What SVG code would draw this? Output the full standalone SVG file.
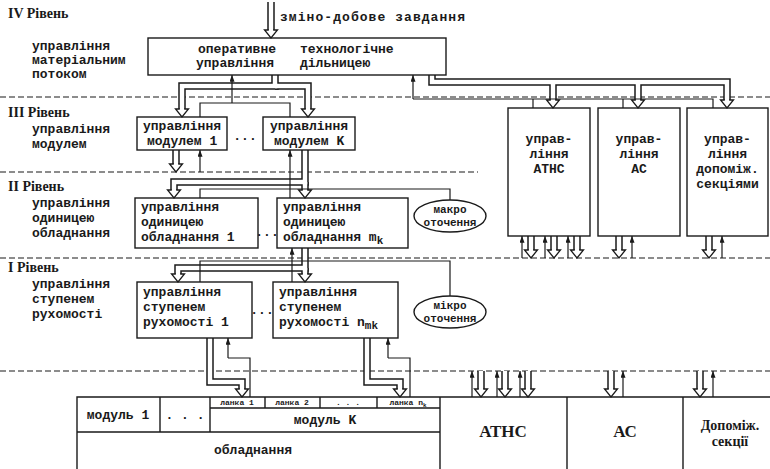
<svg xmlns="http://www.w3.org/2000/svg" width="770" height="469" viewBox="0 0 770 469">
<style>
text{font-family:"Liberation Mono","DejaVu Sans Mono",monospace;font-size:13px;font-weight:bold;fill:#1a1a1a}
.h{font-family:"Liberation Serif","DejaVu Serif",serif;font-size:14px}
.big{font-family:"Liberation Serif","DejaVu Serif",serif;font-size:17px}
.mid{font-family:"Liberation Serif","DejaVu Serif",serif;font-size:14px}
.sm{font-size:11px}
.xs{font-size:8px}
.c{text-anchor:middle}
.box{fill:none;stroke:#1a1a1a;stroke-width:1.4}
.ell{fill:#fff;stroke:#1a1a1a;stroke-width:1.4}
.dash{fill:none;stroke:#1a1a1a;stroke-width:1.2;stroke-dasharray:6 3}
.th{fill:none;stroke:#1a1a1a;stroke-width:1.2}
.po{fill:none;stroke:#1a1a1a;stroke-width:7.5}
.pi{fill:none;stroke:#fff;stroke-width:4.5}
.ah{fill:#fff;stroke:#1a1a1a;stroke-width:1.3}
</style>
<defs>
<marker id="a" viewBox="0 0 8 6" refX="8" refY="3" markerWidth="7" markerHeight="5" markerUnits="userSpaceOnUse" orient="auto">
<path d="M0,0 L8,3 L0,6 z" fill="#1a1a1a"/>
</marker>
<path id="ah" d="M-2.2,-8 H-6.5 L0,0 L6.5,-8 H2.2"/>
</defs>
<rect width="770" height="469" fill="#fff"/>

<g id="levels">
<line class="dash" x1="0" y1="97" x2="770" y2="97"/>
<line class="dash" x1="0" y1="172" x2="478" y2="172"/>
<line class="dash" x1="0" y1="258" x2="770" y2="258"/>
<line class="dash" x1="0" y1="371" x2="770" y2="371"/>
<text class="h" x="8" y="18">IV Рівень</text>
<text x="32" y="50">управління</text>
<text x="32" y="64">матеріальним</text>
<text x="32" y="78">потоком</text>
<text class="h" x="8" y="117">III Рівень</text>
<text x="32" y="133">управління</text>
<text x="32" y="148">модулем</text>
<text class="h" x="8" y="191">II Рівень</text>
<text x="32" y="207">управління</text>
<text x="32" y="222">одиницею</text>
<text x="32" y="237">обладнання</text>
<text class="h" x="8" y="272">I Рівень</text>
<text x="32" y="288">управління</text>
<text x="32" y="303">ступенем</text>
<text x="32" y="318">рухомості</text>
</g>

<g id="connectors">
<g class="po">
<path d="M271,2 V30.5"/>
<path d="M275,75 V86 H182 V109.5"/><path d="M275,86 H308 V109.5"/>
<path d="M432,75 V82 H727 V100.5"/><path d="M553,82 V100.5"/><path d="M638,82 V100.5"/>
<path d="M176,150 V164.5"/>
<path d="M305,150 V182 H174 V190.5"/><path d="M305,182 V190.5"/>
<path d="M305,248 V268 H178 V274.5"/><path d="M305,268 V274.5"/>
<path d="M210,338 V382 H242 V389.5"/>
<path d="M367,338 V382 H400 V389.5"/>
<path d="M531,236 V250.5"/><path d="M554,236 V250.5"/><path d="M577,236 V250.5"/><path d="M619,236 V250.5"/><path d="M709,236 V250.5"/>
<path d="M481,371 V389.5"/><path d="M505,371 V389.5"/><path d="M528,371 V389.5"/><path d="M611,371 V389.5"/><path d="M700,371 V389.5"/>
</g>
<g class="pi">
<path d="M271,2 V30.5"/>
<path d="M275,75 V86 H182 V109.5"/><path d="M275,86 H308 V109.5"/>
<path d="M432,75 V82 H727 V100.5"/><path d="M553,82 V100.5"/><path d="M638,82 V100.5"/>
<path d="M176,150 V164.5"/>
<path d="M305,150 V182 H174 V190.5"/><path d="M305,182 V190.5"/>
<path d="M305,248 V268 H178 V274.5"/><path d="M305,268 V274.5"/>
<path d="M210,338 V382 H242 V389.5"/>
<path d="M367,338 V382 H400 V389.5"/>
<path d="M531,236 V250.5"/><path d="M554,236 V250.5"/><path d="M577,236 V250.5"/><path d="M619,236 V250.5"/><path d="M709,236 V250.5"/>
<path d="M481,371 V389.5"/><path d="M505,371 V389.5"/><path d="M528,371 V389.5"/><path d="M611,371 V389.5"/><path d="M700,371 V389.5"/>
</g>
<g class="ah">
<use href="#ah" x="271" y="38"/>
<use href="#ah" x="182" y="117"/><use href="#ah" x="308" y="117"/>
<use href="#ah" x="553" y="108"/><use href="#ah" x="638" y="108"/><use href="#ah" x="727" y="108"/>
<use href="#ah" x="176" y="172"/>
<use href="#ah" x="174" y="198"/><use href="#ah" x="305" y="198"/>
<use href="#ah" x="178" y="282"/><use href="#ah" x="305" y="282"/>
<use href="#ah" x="242" y="397"/><use href="#ah" x="400" y="397"/>
<use href="#ah" x="531" y="258"/><use href="#ah" x="554" y="258"/><use href="#ah" x="577" y="258"/><use href="#ah" x="619" y="258"/><use href="#ah" x="709" y="258"/>
<use href="#ah" x="481" y="397"/><use href="#ah" x="505" y="397"/><use href="#ah" x="528" y="397"/><use href="#ah" x="611" y="397"/><use href="#ah" x="700" y="397"/>
</g>
<g class="th">
<path d="M232,103 V75" marker-end="url(#a)"/>
<path d="M200,117 V103 H290 V117"/>
<path d="M413,99 V75" marker-end="url(#a)"/>
<path d="M413,99 H713 V108"/><path d="M533,99 V108"/><path d="M623,99 V108"/>
<path d="M200,172 V150" marker-end="url(#a)"/>
<path d="M290,198 V150" marker-end="url(#a)"/>
<path d="M200,198 V189 H450 V200"/>
<path d="M292,282 V248" marker-end="url(#a)"/>
<path d="M200,282 V261 H450 V296"/>
<path d="M228,358 V338" marker-end="url(#a)"/><path d="M228,358 H250 V397"/>
<path d="M388,358 V338" marker-end="url(#a)"/><path d="M388,358 H410 V397"/>
<path d="M522,258 V236" marker-end="url(#a)"/><path d="M545,258 V236" marker-end="url(#a)"/><path d="M568,258 V236" marker-end="url(#a)"/><path d="M632,258 V236" marker-end="url(#a)"/><path d="M722,258 V236" marker-end="url(#a)"/>
<path d="M472,397 V371" marker-end="url(#a)"/><path d="M497,397 V371" marker-end="url(#a)"/><path d="M520,397 V371" marker-end="url(#a)"/><path d="M623,397 V371" marker-end="url(#a)"/><path d="M713,397 V371" marker-end="url(#a)"/>
</g>
</g>

<g id="input">
<text x="280" y="21" textLength="185" lengthAdjust="spacing">зміно-добове завдання</text>
</g>

<g id="top">
<rect class="box" x="148" y="38" width="298" height="37"/>
<text x="198" y="53">оперативне</text><text x="300" y="53">технологічне</text>
<text x="196" y="67">управління</text><text x="300" y="67">дільницею</text>
</g>

<g id="mod1">
<rect class="box" x="137" y="117" width="90" height="33"/>
<text x="143" y="130">управління</text>
<text x="147" y="145">модулем 1</text>
</g>
<text class="c" x="245" y="140">...</text>
<g id="modK">
<rect class="box" x="263" y="117" width="92" height="33"/>
<text x="270" y="130">управління</text>
<text x="274" y="145">модулем K</text>
</g>

<g id="athc">
<rect class="box" x="508" y="108" width="82" height="128"/>
<text class="c" x="549" y="143">управ-</text>
<text class="c" x="549" y="158">ління</text>
<text class="c" x="549" y="173">АТНС</text>
</g>
<g id="as">
<rect class="box" x="598" y="108" width="82" height="128"/>
<text class="c" x="639" y="143">управ-</text>
<text class="c" x="639" y="158">ління</text>
<text class="c" x="639" y="173">АС</text>
</g>
<g id="dop">
<rect class="box" x="687" y="108" width="81" height="128"/>
<text class="c" x="727.5" y="143">управ-</text>
<text class="c" x="727.5" y="158">ління</text>
<text class="c" x="727.5" y="173">допоміж.</text>
<text class="c" x="727.5" y="188">секціями</text>
</g>

<g id="unit1">
<rect class="box" x="135" y="198" width="123" height="50"/>
<text x="141" y="211">управління</text>
<text x="141" y="226">одиницею</text>
<text x="141" y="241">обладнання 1</text>
</g>
<text class="c" x="267" y="236">...</text>
<g id="unitm">
<rect class="box" x="277" y="198" width="131" height="50"/>
<text x="283" y="211">управління</text>
<text x="283" y="226">одиницею</text>
<text x="283" y="241">обладнання m<tspan class="sm" dy="3">k</tspan></text>
</g>
<g id="macro">
<ellipse class="ell" cx="450" cy="216" rx="36" ry="16"/>
<text class="c sm" x="450" y="213">макро</text>
<text class="c sm" x="450" y="226">оточення</text>
</g>

<g id="step1">
<rect class="box" x="137" y="282" width="115" height="56"/>
<text x="143" y="296">управління</text>
<text x="143" y="311">ступенем</text>
<text x="143" y="326">рухомості 1</text>
</g>
<text class="c" x="262" y="314">...</text>
<g id="stepn">
<rect class="box" x="273" y="282" width="125" height="56"/>
<text x="279" y="296">управління</text>
<text x="279" y="311">ступенем</text>
<text x="279" y="326">рухомості n<tspan class="sm" dy="3">mk</tspan></text>
</g>
<g id="micro">
<ellipse class="ell" cx="450" cy="312" rx="36" ry="16"/>
<text class="c sm" x="450" y="309">мікро</text>
<text class="c sm" x="450" y="322">оточення</text>
</g>

<g id="equipment">
<path class="box" d="M77,470 V397 H770 M160,397 V432 M210,397 V432 M440,397 V470 M567,397 V470 M683,397 V470 M77,432 H440 M210,408 H440 M265,397 V408 M320,397 V408 M377,397 V408"/>
<text class="c" x="118" y="419">модуль 1</text>
<text class="c" x="185" y="419">. . .</text>
<text class="c xs" x="237" y="405">ланка 1</text>
<text class="c xs" x="292" y="405">ланка 2</text>
<text class="c xs" x="348" y="405">. . .</text>
<text class="c xs" x="408" y="405">ланка n<tspan dy="2" font-size="6">k</tspan></text>
<text class="c" x="325" y="424">модуль K</text>
<text class="c" x="253" y="454">обладнання</text>
<text class="c big" x="503" y="437">АТНС</text>
<text class="c big" x="625" y="437">АС</text>
<text class="c mid" x="730" y="430">Допоміж.</text>
<text class="c mid" x="730" y="446">секції</text>
</g>
</svg>
